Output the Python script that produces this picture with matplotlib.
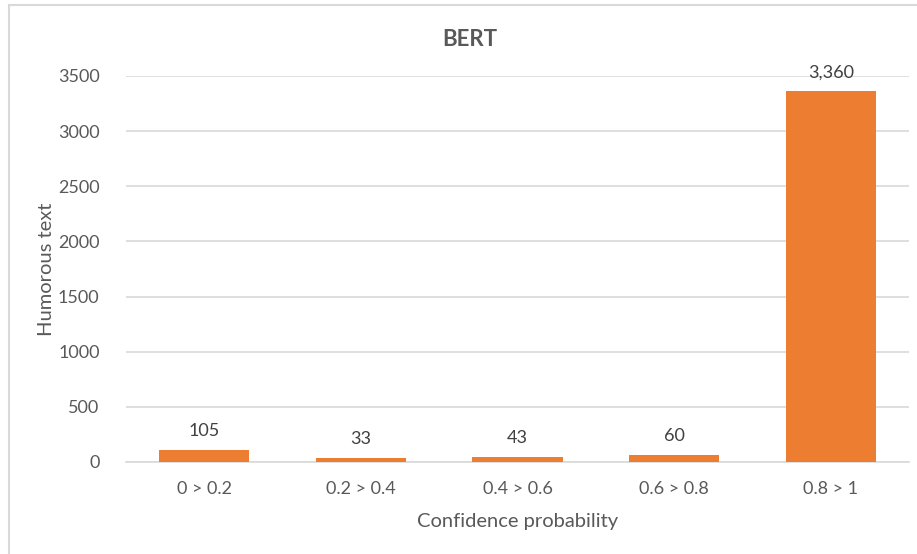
import matplotlib
matplotlib.use("Agg")
import matplotlib.pyplot as plt
from matplotlib.patches import Rectangle

categories = ["0 > 0.2", "0.2 > 0.4", "0.4 > 0.6", "0.6 > 0.8", "0.8 > 1"]
values = [105, 33, 43, 60, 3360]
yticks = [0, 500, 1000, 1500, 2000, 2500, 3000, 3500]

plt.rcParams['font.family'] = ['Lato', 'DejaVu Sans']
text_col = "#595959"
bar_col = "#ED7D31"
grid_col = "#D9D9D9"

fig = plt.figure(figsize=(9.17, 5.54), dpi=100)
ax = fig.add_axes([126/917, 1-462/554, (909-126)/917, (462-76)/554])

x = list(range(len(categories)))
bars = ax.bar(x, values, width=0.575, color=bar_col, zorder=3)
for xi, v in zip(x, values):
    ax.annotate(f"{v:,}", (xi, v), xytext=(0, 8), textcoords="offset points",
                ha="center", va="bottom", fontsize=13, color="#404040")

ax.set_xlim(-0.5, len(categories) - 0.5)
ax.set_ylim(0, 3500)
ax.set_yticks(yticks)
ax.set_yticklabels([str(t) for t in yticks])
ax.set_xticks(x)
ax.set_xticklabels(categories)
ax.yaxis.grid(True, color=grid_col, linewidth=1.2, zorder=0)
ax.set_axisbelow(True)
for s in ["top", "right", "left"]:
    ax.spines[s].set_visible(False)
ax.spines["bottom"].set_color(grid_col)
ax.spines["bottom"].set_linewidth(1.2)
ax.tick_params(axis="both", length=0, labelsize=13, labelcolor=text_col)
ax.tick_params(axis="y", pad=19)
ax.tick_params(axis="x", pad=14)

ax.set_xlabel("Confidence probability", fontsize=14.5, color=text_col)
ax.xaxis.set_label_coords(0.5, -(522-462)/386)
ax.xaxis.label.set_va("center")
ax.set_ylabel("Humorous text", fontsize=14.5, color=text_col)
ax.yaxis.set_label_coords(-(126-47)/783, 0.5)
ax.yaxis.label.set_va("center")
fig.text(470/917, 1-39/554, "BERT", ha="center", va="center", fontsize=16,
         fontweight="bold", color=text_col)

fig.patches.append(Rectangle((9/917, -0.1), 1.2, 1-5/554+0.1, transform=fig.transFigure,
                             fill=False, edgecolor=grid_col, linewidth=1.5))

fig.savefig("out.png", dpi=100)
